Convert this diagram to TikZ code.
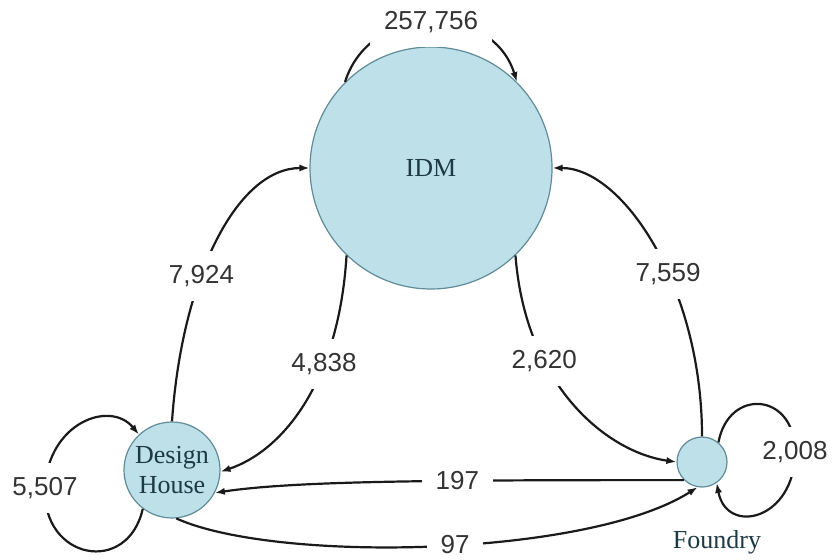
\documentclass[tikz,border=0pt]{standalone}
\usepackage{fontspec}
\setmainfont{Liberation Serif}
\setsansfont{Liberation Sans}
\usetikzlibrary{arrows.meta}
\definecolor{HubFill}{HTML}{BDE0E9}
\definecolor{HubLine}{HTML}{5F8C97}
\definecolor{HubText}{HTML}{1D3A44}
\definecolor{FlowInk}{HTML}{1A1A1A}
\definecolor{CountInk}{HTML}{333333}

\begin{document}
\begin{tikzpicture}[
  x=0.5pt,y=-0.5pt,
  firm/.style={circle,draw=HubLine,line width=0.6pt,fill=HubFill,text=HubText,
    font=\fontsize{13}{15}\selectfont,align=center,inner sep=0pt},
  flow/.style={-{Latex[length=5pt,width=3.6pt]},line width=1.1pt,color=FlowInk},
  count/.style={fill=white,inner sep=7pt,text=CountInk,
    font=\sffamily\fontsize{13}{15}\selectfont}
]
  \useasboundingbox (0,0) rectangle (838,560);

  \node[firm,minimum size=121pt] (idm) at (431,168) {IDM};
  \node[firm,minimum size=48pt] (dh) at (172,470) {Design\\House};
  \node[firm,minimum size=25pt] (fab) at (702,462) {};
  \node[text=HubText,font=\fontsize{13}{15}\selectfont] (fablabel) at (717,542) {Foundry};

  \coordinate (loopdh) at (45,488);
  \coordinate (loopfab) at (795,452);

  % flows between the three firm types
  \draw[flow] (dh.north) .. controls +(10,-145) and +(-72,0) .. (idm.west) node[count,pos=0.38]{7,924};
  \draw[flow] (idm.226) .. controls +(-8,130) and +(60,-20) .. (dh.358) node[count,pos=0.33]{4,838};
  \draw[flow] (idm.314) .. controls +(10,130) and +(-70,-10) .. (fab.west) node[count,pos=0.32]{2,620};
  \draw[flow] (fab.north) .. controls +(0,-150) and +(70,0) .. (idm.east) node[count,pos=0.41]{7,559};
  \draw[flow] (fab.225) .. controls +(-250,0) and +(80,-12) .. (dh.332) node[count,pos=0.355]{197};
  \draw[flow] (dh.275) .. controls +(100,45) and +(-110,70) .. (fab.260) node[count,pos=0.535]{97};

  % flows within one firm type
  \draw[flow] (idm.135) .. controls +(25,-80) and +(-25,-80) .. (idm.45) node[count,pos=0.5]{257,756};
  \draw[flow] (dh.233) .. controls +(-15,67) and +(-3,72) .. (loopdh) node[count]{5,507}
    .. controls +(3,-65) and +(-29,-35) .. (dh.133);
  \draw[flow] (fab.50) .. controls +(10,-55) and +(0,-60) .. (loopfab) node[count]{2,008}
    .. controls +(0,68) and +(10,53) .. (fab.305);
\end{tikzpicture}
\end{document}
